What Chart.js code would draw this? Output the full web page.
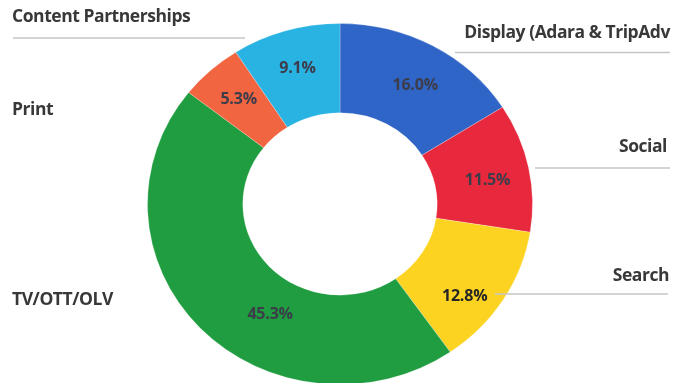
<!DOCTYPE html>
<html>
<head>
<meta charset="utf-8">
<script src="https://cdn.jsdelivr.net/npm/chart.js@4.4.1/dist/chart.umd.min.js"></script>
<style>
  html, body { margin: 0; padding: 0; background: #fff; overflow: hidden; }
  #wrap { position: absolute; left: 0; top: 0; width: 685px; height: 400px; }
</style>
</head>
<body>
<div id="wrap"><canvas id="chart"></canvas></div>
<script>
// -----------------------------
// Data
// -----------------------------
const categories = ["Display (Adara & TripAdv", "Social", "Search", "TV/OTT/OLV", "Print", "Content Partnerships"];
const shares = [16.0, 11.5, 12.8, 45.3, 5.3, 9.1];
const sliceColors = ["#2f65c6", "#e8283c", "#fcd321", "#1f9d40", "#f26541", "#28b3e3"];

// where the side labels sit (baseline) and the grey rule under them
const sideLabels = [
  { x: 670, y: 38,  align: "right", line: [455, 670, 52.5] },
  { x: 667, y: 152, align: "right", line: [535, 670, 168] },
  { x: 669, y: 281, align: "right", line: [495, 668, 294] },
  { x: 12,  y: 305, align: "left",  line: null },
  { x: 12,  y: 115, align: "left",  line: null },
  { x: 12,  y: 22,  align: "left",  line: [13, 245, 38] }
];
// small hand nudges for the percent text: [degrees, fraction across ring]
const pctNudge = [[2, 0.52], [2, 0.55], [6.4, 0.65], [-16, 0.42], [0, 0.56], [0, 0.56]];

const SQUASH = 0.938;     // the scan is a bit flattened vertically
const CENTER_Y = 204;

// -----------------------------
// Plugins
// -----------------------------
const squashPlugin = {
  id: "squash",
  beforeDatasetsDraw(chart) {
    const ctx = chart.ctx;
    const cy = (chart.chartArea.top + chart.chartArea.bottom) / 2;
    ctx.save();
    ctx.translate(0, CENTER_Y);
    ctx.scale(1, SQUASH);
    ctx.translate(0, -cy);
  },
  afterDatasetsDraw(chart) {
    chart.ctx.restore();
  }
};

const labelPlugin = {
  id: "labels",
  afterDraw(chart) {
    const ctx = chart.ctx;
    const meta = chart.getDatasetMeta(0);

    // percent text inside each slice
    ctx.save();
    ctx.font = "700 16px 'Open Sans'";
    ctx.letterSpacing = "-0.2px";
    ctx.textAlign = "center";
    ctx.textBaseline = "middle";
    meta.data.forEach((arc, i) => {
      const p = arc.getProps(["x", "startAngle", "endAngle", "innerRadius", "outerRadius"], true);
      const a = (p.startAngle + p.endAngle) / 2 + pctNudge[i][0] * Math.PI / 180;
      const r = p.innerRadius + (p.outerRadius - p.innerRadius) * pctNudge[i][1];
      const x = p.x + Math.cos(a) * r;
      const y = CENTER_Y + Math.sin(a) * r * SQUASH;
      ctx.fillStyle = i === 2 ? "#262626" : "#3c3c4a";
      ctx.fillText(shares[i].toFixed(1) + "%", x, y);
    });
    ctx.restore();

    // category names + grey rules
    ctx.save();
    ctx.font = "700 17.5px 'Open Sans'";
    ctx.letterSpacing = "-0.45px";
    ctx.textBaseline = "alphabetic";
    ctx.fillStyle = "#383838";
    sideLabels.forEach((s, i) => {
      ctx.textAlign = s.align;
      ctx.fillText(categories[i], s.x, s.y);
      if (s.line) {
        ctx.strokeStyle = "#c6c6c6";
        ctx.lineWidth = 1.3;
        ctx.beginPath();
        ctx.moveTo(s.line[0], s.line[2]);
        ctx.lineTo(s.line[1], s.line[2]);
        ctx.stroke();
      }
    });
    ctx.restore();
  }
};

// -----------------------------
// Chart
// -----------------------------
new Chart(document.getElementById("chart"), {
  type: "doughnut",
  data: {
    labels: categories,
    datasets: [{
      data: shares,
      backgroundColor: sliceColors,
      borderColor: "rgba(255,255,255,0.25)",
      borderWidth: 1
    }]
  },
  options: {
    responsive: true,
    maintainAspectRatio: false,
    animation: false,
    cutout: "50.5%",
    layout: { padding: { left: 147, right: 152, top: 7, bottom: 7 } },
    plugins: {
      legend: { display: false },
      tooltip: { enabled: false }
    }
  },
  plugins: [squashPlugin, labelPlugin]
});
</script>
</body>
</html>
